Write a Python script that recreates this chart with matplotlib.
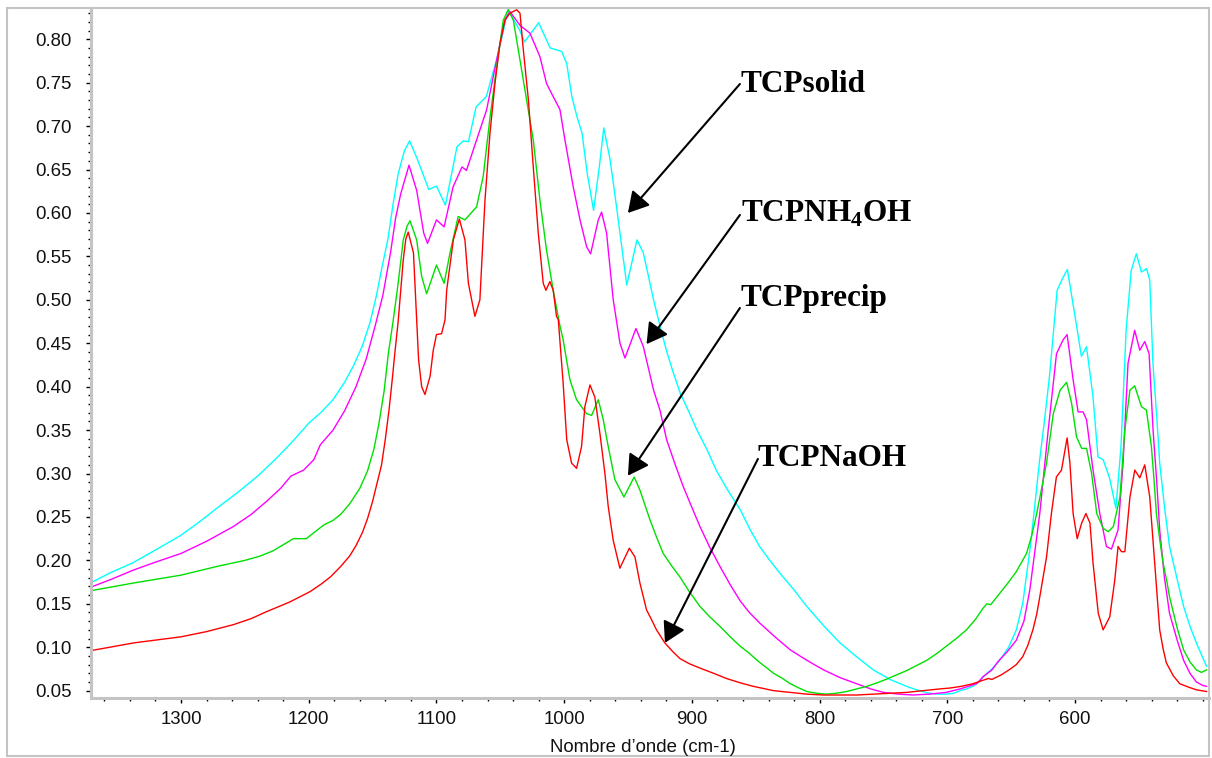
import numpy as np
import matplotlib
matplotlib.use("Agg")
import matplotlib.pyplot as plt
from matplotlib.patches import Rectangle
from matplotlib.ticker import MultipleLocator, FormatStrFormatter

plt.rcParams["font.family"] = ["Liberation Sans", "DejaVu Sans"]
plt.rcParams["mathtext.fontset"] = "custom"
plt.rcParams["mathtext.rm"] = "Liberation Serif:bold"
plt.rcParams["mathtext.bf"] = "Liberation Serif:bold"

# =====================================================
# IR spectra: (wavenumber cm-1, absorbance)
# =====================================================
solid = np.array([
    (1371, 0.174), (1355, 0.186), (1338, 0.197), (1320, 0.212), (1300, 0.229), (1285, 0.245),
    (1272, 0.260), (1255, 0.279), (1240, 0.297), (1225, 0.318), (1212, 0.338), (1200, 0.358),
    (1190, 0.371), (1181, 0.385), (1172, 0.405), (1165, 0.424), (1158, 0.447), (1152, 0.474),
    (1147, 0.505), (1143, 0.535), (1138, 0.570), (1134, 0.610), (1130, 0.645), (1125, 0.672),
    (1121, 0.683), (1115, 0.662), (1106, 0.627), (1100, 0.631), (1093, 0.609), (1084, 0.676),
    (1079, 0.683), (1075, 0.682), (1069, 0.722), (1061, 0.734), (1053, 0.776), (1048, 0.807),
    (1044, 0.834), (1035, 0.811), (1031, 0.797), (1020, 0.819), (1011, 0.790), (1002, 0.786),
    (998, 0.772), (994, 0.734), (990, 0.711), (986, 0.692), (982, 0.646), (977, 0.603),
    (972.5, 0.653), (969, 0.698), (964, 0.661), (959, 0.607), (951, 0.517), (943, 0.569),
    (938, 0.554), (930, 0.500), (925, 0.470), (920, 0.442), (915, 0.418), (909, 0.392),
    (902, 0.370), (896, 0.350), (888, 0.327), (881, 0.304), (872, 0.281), (862, 0.258),
    (855, 0.237), (847, 0.216), (839, 0.200), (831, 0.185), (820, 0.166), (810, 0.147),
    (797, 0.125), (784, 0.105), (771, 0.089), (758, 0.074), (745, 0.063), (732, 0.055),
    (722, 0.050), (714, 0.047), (707, 0.046), (701, 0.046), (695, 0.047), (690, 0.050),
    (685, 0.052), (680, 0.055), (675, 0.060), (672, 0.066), (665, 0.075), (659, 0.085),
    (652, 0.100), (646, 0.120), (641, 0.150), (635, 0.216), (631, 0.270), (628, 0.312),
    (624, 0.360), (620, 0.412), (614, 0.511), (610, 0.524), (606, 0.535), (600, 0.481),
    (595, 0.435), (591, 0.446), (586, 0.389), (582, 0.319), (578, 0.316), (573, 0.295),
    (568, 0.260), (564, 0.331), (560, 0.465), (556, 0.534), (552, 0.553), (548, 0.532),
    (544, 0.536), (541.5, 0.523), (539, 0.427), (536, 0.365), (533.7, 0.312), (530, 0.262),
    (526, 0.216), (520, 0.178), (515, 0.147), (510, 0.124), (505, 0.105), (500, 0.088),
    (497, 0.078),
])

nh4oh = np.array([
    (1371, 0.169), (1355, 0.178), (1337, 0.189), (1320, 0.198), (1300, 0.208), (1280, 0.222),
    (1259, 0.239), (1245, 0.253), (1233, 0.268), (1222, 0.283), (1214, 0.297), (1204, 0.304),
    (1196, 0.316), (1191, 0.333), (1181, 0.350), (1172, 0.372), (1163, 0.400), (1155, 0.432),
    (1148, 0.470), (1142, 0.505), (1136, 0.554), (1132, 0.594), (1128, 0.622), (1121.5, 0.655),
    (1115.5, 0.626), (1110, 0.577), (1107, 0.565), (1100, 0.592), (1094, 0.584), (1087, 0.630),
    (1080, 0.653), (1076.5, 0.649), (1068.6, 0.684), (1060.7, 0.719), (1052.9, 0.776),
    (1046.4, 0.822), (1042.5, 0.832), (1034.6, 0.816), (1026.8, 0.807), (1019, 0.780),
    (1013.8, 0.749), (1008.6, 0.734), (1003.3, 0.719), (999.4, 0.684), (992.9, 0.630),
    (987.6, 0.592), (982.4, 0.561), (979.3, 0.553), (973.3, 0.592), (970.7, 0.601),
    (966.8, 0.577), (961.6, 0.500), (956.3, 0.450), (952.4, 0.433), (943.8, 0.467),
    (938, 0.446), (930, 0.396), (925, 0.373), (919.8, 0.339), (913, 0.310), (906.8, 0.285),
    (900, 0.261), (893.7, 0.239), (886, 0.215), (878, 0.193), (870, 0.172), (862, 0.153),
    (855, 0.140), (847, 0.128), (835, 0.112), (823, 0.097), (810, 0.085), (797, 0.074),
    (784, 0.065), (771, 0.058), (760, 0.052), (750, 0.048), (738, 0.046), (727, 0.045),
    (714, 0.046), (701, 0.048), (690, 0.052), (677, 0.058), (672, 0.066), (665, 0.074),
    (660, 0.084), (653, 0.095), (646, 0.108), (640, 0.130), (635.4, 0.166), (627.6, 0.254),
    (621, 0.350), (614.5, 0.438), (609.3, 0.454), (606.2, 0.460), (601.5, 0.408),
    (597.6, 0.371), (593.7, 0.371), (591, 0.362), (585.9, 0.304), (580.6, 0.254),
    (575.4, 0.216), (571.5, 0.213), (566.3, 0.235), (562.4, 0.312), (558.5, 0.427),
    (553.3, 0.465), (549.3, 0.442), (545.4, 0.452), (542, 0.438), (538.9, 0.350),
    (536, 0.290), (533.7, 0.235), (530, 0.180), (526, 0.139), (520, 0.108), (515, 0.085),
    (510, 0.070), (505, 0.060), (500, 0.056), (497, 0.055),
])

precip = np.array([
    (1371, 0.165), (1337, 0.174), (1300, 0.183), (1272, 0.193), (1250, 0.200), (1238, 0.205),
    (1228, 0.211), (1220, 0.218), (1212, 0.225), (1202, 0.225), (1195, 0.233), (1188, 0.241),
    (1181, 0.246), (1175, 0.253), (1168, 0.265), (1160, 0.283), (1154, 0.303), (1149, 0.328),
    (1145, 0.358), (1141, 0.395), (1137.7, 0.438), (1134, 0.475), (1130, 0.519), (1126, 0.569),
    (1123, 0.585), (1120.7, 0.591), (1115.5, 0.569), (1111.6, 0.527), (1107.7, 0.507),
    (1100, 0.540), (1094, 0.519), (1089.4, 0.554), (1083, 0.596), (1077.7, 0.592),
    (1068.6, 0.607), (1063.4, 0.642), (1058, 0.711), (1052.9, 0.768), (1047.7, 0.822),
    (1043.8, 0.834), (1039.8, 0.822), (1034.6, 0.776), (1029.4, 0.730), (1024.2, 0.684),
    (1019, 0.615), (1013.8, 0.557), (1008.6, 0.511), (1003.3, 0.470), (1000.8, 0.454),
    (995.5, 0.408), (990.3, 0.385), (982.5, 0.369), (978.5, 0.367), (973.3, 0.385),
    (969.4, 0.362), (965.5, 0.331), (960.3, 0.293), (953.2, 0.273), (945.2, 0.296),
    (940.7, 0.281), (932.9, 0.247), (928, 0.228), (922.5, 0.208), (916, 0.194), (909.4, 0.181),
    (902, 0.164), (893.7, 0.147), (886, 0.135), (878, 0.124), (870, 0.112), (862, 0.101),
    (855, 0.093), (849, 0.085), (842, 0.077), (836, 0.070), (829, 0.064), (823, 0.058),
    (816, 0.053), (810, 0.049), (802, 0.047), (795, 0.046), (787, 0.047), (779, 0.049),
    (771, 0.052), (763, 0.055), (755, 0.059), (748, 0.063), (740, 0.068), (732, 0.073),
    (724, 0.079), (716, 0.085), (708, 0.093), (701, 0.101), (693, 0.110), (685, 0.120),
    (678, 0.132), (672, 0.145), (669, 0.150), (666, 0.149), (659, 0.162), (652, 0.175),
    (646, 0.187), (641, 0.200), (638, 0.208), (634, 0.228), (630, 0.254), (622.3, 0.312),
    (617, 0.369), (611.7, 0.396), (606.6, 0.405), (602.7, 0.381), (598.8, 0.342),
    (594.8, 0.329), (591, 0.329), (587, 0.300), (583, 0.254), (578, 0.237), (574, 0.233),
    (570, 0.239), (564.8, 0.273), (561, 0.350), (557, 0.396), (553.3, 0.401), (548, 0.377),
    (544.1, 0.373), (540.2, 0.331), (538, 0.290), (536.3, 0.254), (533.5, 0.222),
    (531, 0.197), (528, 0.175), (526, 0.158), (520, 0.122), (515, 0.097), (510, 0.083),
    (505, 0.074), (501, 0.071), (497, 0.074),
])

naoh = np.array([
    (1371, 0.096), (1337, 0.105), (1300, 0.112), (1280, 0.118), (1259, 0.126), (1245, 0.133),
    (1233, 0.141), (1215, 0.152), (1199, 0.164), (1190, 0.173), (1183, 0.181), (1175, 0.193),
    (1168, 0.205), (1163, 0.217), (1158, 0.232), (1154, 0.248), (1150, 0.268), (1146.8, 0.287),
    (1143, 0.310), (1140, 0.340), (1137, 0.375), (1134.5, 0.410), (1132.5, 0.440),
    (1130, 0.475), (1128, 0.510), (1126, 0.546), (1124, 0.570), (1122.1, 0.578), (1118, 0.554),
    (1115, 0.461), (1114, 0.431), (1111.6, 0.400), (1109, 0.391), (1105, 0.412),
    (1102.5, 0.442), (1100, 0.460), (1096, 0.461), (1093.3, 0.477), (1092, 0.511),
    (1086.8, 0.569), (1082.1, 0.593), (1077.7, 0.569), (1075, 0.519), (1069.9, 0.481),
    (1066, 0.500), (1062, 0.615), (1058.1, 0.692), (1054.2, 0.749), (1050.3, 0.795),
    (1046.4, 0.822), (1042.5, 0.830), (1037.2, 0.834), (1034.6, 0.830), (1032, 0.788),
    (1028, 0.730), (1024.2, 0.653), (1020.3, 0.577), (1016.4, 0.519), (1014.3, 0.511),
    (1011.2, 0.521), (1008.6, 0.511), (1006, 0.481), (1004.6, 0.477), (1000.8, 0.404),
    (998, 0.339), (994.2, 0.312), (990.3, 0.306), (986.4, 0.331), (983.8, 0.377),
    (979.8, 0.402), (976, 0.388), (972, 0.346), (968.1, 0.300), (965.5, 0.262),
    (961.6, 0.223), (956.4, 0.191), (949, 0.214), (944.6, 0.204), (940.7, 0.174),
    (935.5, 0.143), (931, 0.130), (927.7, 0.120), (921.2, 0.105), (915, 0.095), (909.4, 0.087),
    (902, 0.081), (893.7, 0.076), (883, 0.070), (872.9, 0.064), (862, 0.059), (852, 0.055),
    (836, 0.050), (823, 0.048), (810, 0.046), (797, 0.045), (784, 0.045), (771, 0.045),
    (758, 0.046), (745, 0.047), (732, 0.048), (719, 0.050), (706, 0.052), (698, 0.053),
    (689, 0.055), (680, 0.058), (668, 0.064), (665, 0.063), (658, 0.068), (651.6, 0.074),
    (646, 0.080), (641, 0.089), (637, 0.102), (633, 0.120), (630, 0.138), (627.6, 0.158),
    (622.3, 0.204), (618.5, 0.254), (614.6, 0.296), (610.6, 0.304), (606.2, 0.341),
    (604, 0.312), (601.5, 0.254), (598.3, 0.225), (594.8, 0.243), (591.5, 0.254),
    (588.3, 0.243), (585.9, 0.197), (581.8, 0.139), (578, 0.120), (572.8, 0.135),
    (568.9, 0.177), (566.3, 0.216), (563.6, 0.210), (561, 0.210), (557, 0.273),
    (553.2, 0.304), (549.3, 0.295), (545.4, 0.310), (541.5, 0.273), (537.6, 0.197),
    (535.5, 0.155), (533.7, 0.120), (531, 0.098), (528.5, 0.082), (523, 0.067), (518, 0.058),
    (511, 0.054), (505, 0.051), (497, 0.049),
])

series = [(solid, "#00ffff"), (nh4oh, "#ff00ff"), (precip, "#00e000"), (naoh, "#ff0000")]

# label text, label anchor (wn, abs), arrow start, arrow tip
labels = [
    ("TCPsolid", (861.6, 0.7393), (862.4, 0.7485), (950.1, 0.600)),
    ("TCPNH$_\\mathrm{4}$OH", (861.6, 0.5896), (862.4, 0.5977), (935.5, 0.449)),
    ("TCPprecip", (861.6, 0.4929), (862.4, 0.4906), (950.1, 0.2975)),
    ("TCPNaOH", (848.3, 0.3087), (848.3, 0.3168), (921.1, 0.105)),
]

W, H = 1212, 758
fig = plt.figure(figsize=(W / 100, H / 100), dpi=100)
ax = fig.add_axes([91 / W, 1 - 697.7 / H, 1118 / W, 689.7 / H])

for data, col in series:
    ax.plot(data[:, 0], data[:, 1], color=col, lw=1.0)

ax.set_xlim(1370.5, 495.1)
ax.set_ylim(0.0419, 0.836)

ax.set_xticks(np.arange(600, 1400, 100))
ax.xaxis.set_minor_locator(MultipleLocator(20))
ax.yaxis.set_major_locator(MultipleLocator(0.05))
ax.yaxis.set_minor_locator(MultipleLocator(0.01))
ax.yaxis.set_major_formatter(FormatStrFormatter("%.2f"))

ax.tick_params(which="major", length=3.6, width=1, color="black", labelsize=13.4, labelcolor="#111111")
ax.tick_params(which="minor", length=2, width=1, color="black")
ax.tick_params(axis="y", which="major", pad=10.5)
ax.tick_params(axis="x", which="major", pad=6)

for side in ("top", "right"):
    ax.spines[side].set_visible(False)
for side in ("left", "bottom"):
    ax.spines[side].set_color("#c4c4c4")
    ax.spines[side].set_linewidth(2.2)

fig.text(642.5 / W, 1 - 752.5 / H, "Nombre d\u2019onde (cm-1)", ha="center", va="baseline",
         fontsize=13.4, color="#111111")

# arrows + labels
for txt, pos, start, tip in labels:
    ax.annotate("", xy=tip, xytext=start,
                arrowprops=dict(arrowstyle="-|>,head_length=1.25,head_width=0.72",
                                mutation_scale=10, lw=1.5, color="black",
                                shrinkA=0, shrinkB=0))
    ax.text(pos[0], pos[1], txt, ha="left", va="baseline", fontsize=22.5,
            fontweight="bold", family="Liberation Serif", color="black")

# outer frame
fig.patches.append(Rectangle((7 / W, 1 - 756 / H), 1202 / W, 748 / H, transform=fig.transFigure,
                             fill=False, edgecolor="#c4c4c4", lw=1.5))

fig.savefig("out.png", dpi=100)
